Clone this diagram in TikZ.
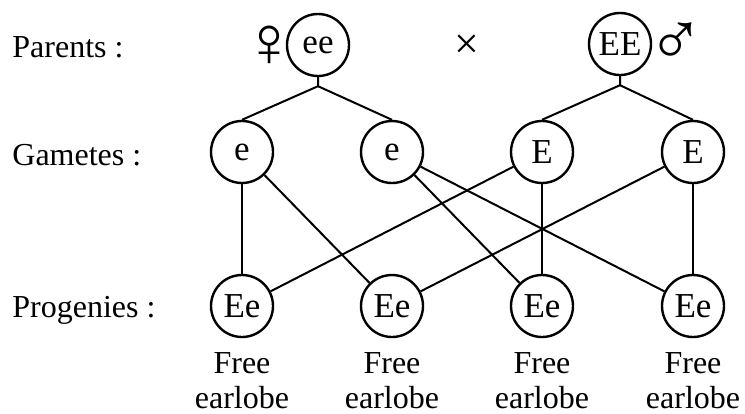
\documentclass[tikz,border=0pt]{standalone}
\usepackage{fontspec}
\setmainfont{Liberation Serif}
\usetikzlibrary{positioning}

\tikzset{
    allele/.style={draw, circle, line width=1.2pt, minimum size=31pt, inner sep=0pt, font=\fontsize{17.5}{20}\selectfont},
    rowlabel/.style={anchor=base west, inner sep=0pt, font=\fontsize{16}{19}\selectfont},
    trait/.style={anchor=north, align=center, inner sep=0pt, font=\fontsize{16}{17.5}\selectfont},
    sexsign/.style={inner sep=0pt, font=\fontsize{36}{38}\selectfont},
    link/.style={line width=1pt}
}

\begin{document}
\begin{tikzpicture}[x=0.5pt, y=-0.5pt]
    \useasboundingbox (0,0) rectangle (745,413);

    % Row labels
    \node[rowlabel] (parents) at (12,57) {Parents :};
    \node[rowlabel] (gametes) at (12,165) {Gametes :};
    \node[rowlabel] (progenies) at (12,317) {Progenies :};

    % Parents and the cross sign
    \node[allele] (mother) at (318,45) {ee};
    \node[allele] (father) at (620,44) {EE};
    \node[sexsign] (female) at (269,46) {♀};
    \node[sexsign, font=\fontsize{38}{40}\selectfont] (male) at (676,44) {♂};
    \node[inner sep=0pt, font=\fontsize{22}{24}\selectfont] (cross) at (467,47) {×};

    % Gametes
    \foreach \name/\x/\allele in {g1/242/e, g2/392/e, g3/542/E, g4/693/E}
        \node[allele] (\name) at (\x,152) {\allele};

    % Progenies with their trait
    \foreach \i/\x in {1/242, 2/392, 3/542, 4/693} {
        \node[allele] (p\i) at (\x,306) {Ee};
        \node[trait] (t\i) at (\x,352) {Free\\earlobe};
    }

    % Parents to gametes
    \coordinate (mj) at ([yshift=-4.5pt]mother.south);
    \coordinate (fj) at ([yshift=-4.5pt]father.south);
    \draw[link] (mother) -- (mj) -- (g1.north);
    \draw[link] (mj) -- (g2.north);
    \draw[link] (father) -- (fj) -- (g3.north);
    \draw[link] (fj) -- (g4.north);

    % Gametes to progenies
    \foreach \a/\b in {g1/p1, g1/p2, g2/p3, g2/p4, g3/p1, g3/p3, g4/p2, g4/p4}
        \draw[link] (\a) -- (\b);
\end{tikzpicture}
\end{document}
